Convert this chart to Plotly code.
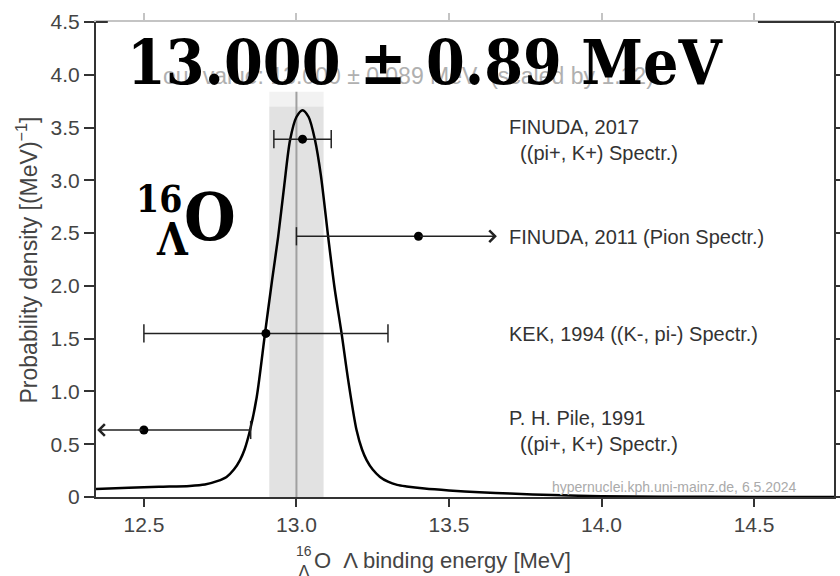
import plotly.graph_objects as go

# ---------------- data ----------------
curve_x = [12.343, 12.45, 12.55, 12.65, 12.70, 12.74, 12.771, 12.795, 12.815, 12.83,
           12.848, 12.87, 12.897, 12.92, 12.940, 12.96, 12.979, 13.00, 13.020, 13.04,
           13.061, 13.08, 13.104, 13.125, 13.148, 13.17, 13.197, 13.215, 13.230, 13.25,
           13.274, 13.30, 13.33, 13.361, 13.42, 13.5, 13.6, 13.7, 13.84, 14.0,
           14.2, 14.5, 14.762]
curve_y = [0.076, 0.088, 0.097, 0.105, 0.118, 0.150, 0.19, 0.26, 0.35, 0.45,
           0.634, 0.95, 1.55, 2.05, 2.465, 2.95, 3.38, 3.60, 3.665, 3.60,
           3.38, 3.05, 2.465, 1.98, 1.55, 1.10, 0.634, 0.45, 0.35, 0.26,
           0.19, 0.145, 0.115, 0.10, 0.08, 0.062, 0.045, 0.032, 0.018, 0.008,
           0.003, 0.001, 0.0]

our_value = 13.000
our_error = 0.089
band_top = 3.70
band_top_light = 3.84

exp_labels = ["FINUDA, 2017<br>\u00a0\u00a0((pi+, K+) Spectr.)",
              "FINUDA, 2011 (Pion Spectr.)",
              "KEK, 1994 ((K-, pi-) Spectr.)",
              "P. H. Pile, 1991<br>\u00a0\u00a0((pi+, K+) Spectr.)"]
exp_value = [13.02, 13.40, 12.90, 12.50]
exp_y = [3.39, 2.47, 1.55, 0.635]
exp_lo = [12.926, 13.00, 12.50, None]
exp_hi = [13.114, None, 13.30, 12.85]
exp_arrow_tip = [None, 13.657, None, 12.347]

x_range = [12.343, 14.762]
y_range = [0, 4.5]
x_ticks = [12.5, 13.0, 13.5, 14.0, 14.5]
x_ticktext = ["12.5", "13.0", "13.5", "14.0", "14.5"]
y_ticks = [0, 0.5, 1.0, 1.5, 2.0, 2.5, 3.0, 3.5, 4.0, 4.5]
y_ticktext = ["0", "0.5", "1.0", "1.5", "2.0", "2.5", "3.0", "3.5", "4.0", "4.5"]

# ---------------- figure ----------------
SANS = "Liberation Sans, Arial, sans-serif"
SERIF = "DejaVu Serif Condensed, DejaVu Serif, serif"
DARK = "#222222"

fig = go.Figure()

# uncertainty band and our value line
fig.add_shape(type="rect", xref="x", yref="y", x0=our_value - our_error, x1=our_value + our_error,
              y0=band_top, y1=band_top_light, fillcolor="#f2f2f2", line_width=0, layer="below")
fig.add_shape(type="rect", xref="x", yref="y", x0=our_value - our_error, x1=our_value + our_error,
              y0=0, y1=band_top, fillcolor="#e2e2e2", line_width=0, layer="below")
fig.add_shape(type="line", xref="x", yref="y", x0=our_value, x1=our_value, y0=0, y1=band_top_light,
              line=dict(color="#a0a0a0", width=2), layer="below")

# invisible trace so the mirrored top/right axes are drawn
fig.add_trace(go.Scatter(x=curve_x, y=curve_y, xaxis="x2", yaxis="y2", mode="lines",
                         line=dict(color="rgba(0,0,0,0)", width=0), hoverinfo="skip", showlegend=False))

# probability density curve
fig.add_trace(go.Scatter(x=curve_x, y=curve_y, mode="lines",
                         line=dict(color="black", width=2.5, shape="spline", smoothing=0.8),
                         hoverinfo="skip", showlegend=False))

# experiments
for lab, v, yy, lo, hi, tip in zip(exp_labels, exp_value, exp_y, exp_lo, exp_hi, exp_arrow_tip):
    seg_x = [lo if lo is not None else v, hi if hi is not None else v]
    fig.add_trace(go.Scatter(x=seg_x, y=[yy, yy], mode="lines",
                             line=dict(color=DARK, width=1.5), showlegend=False, hoverinfo="skip"))
    caps = [c for c in (lo, hi) if c is not None]
    fig.add_trace(go.Scatter(x=caps, y=[yy] * len(caps), mode="markers",
                             marker=dict(symbol="line-ns", size=13, line=dict(color=DARK, width=1.5)),
                             showlegend=False, hoverinfo="skip"))
    if tip is not None:
        fig.add_annotation(x=tip, y=yy, ax=v, ay=yy, xref="x", yref="y", axref="x", ayref="y",
                           text="", showarrow=True, arrowhead=4, arrowsize=1.5, arrowwidth=1.5,
                           arrowcolor=DARK, standoff=0, startstandoff=0)
    fig.add_trace(go.Scatter(x=[v], y=[yy], mode="markers",
                             marker=dict(color="black", size=9), showlegend=False, hoverinfo="skip"))
    fig.add_annotation(x=13.69, y=yy, xref="x", yref="y", text=lab, showarrow=False,
                       xanchor="left", yanchor="middle", align="left", yshift=-1,
                       font=dict(family=SANS, size=20, color="#333333"))

# dark pieces of the top border
fig.add_shape(type="line", xref="paper", yref="paper", x0=0.897, x1=1.0, y0=1, y1=1,
              line=dict(color="#333333", width=2))
fig.add_shape(type="line", xref="paper", yref="paper", x0=0.0, x1=0.016, y0=1, y1=1,
              line=dict(color="#333333", width=2))

# watermark
fig.add_annotation(x=0.9526, y=0.021, xref="paper", yref="paper", xanchor="right", yanchor="middle",
                   text="hypernuclei.kph.uni-mainz.de, 6.5.2024", showarrow=False,
                   font=dict(family=SANS, size=14, color="#aaaaaa"))

# faint original value text
fig.add_annotation(x=0.424, y=0.886, xref="paper", yref="paper", xanchor="center", yanchor="middle",
                   text="our value: 13.000 \u00b1 0.089 MeV  (scaled by 1.12)", showarrow=False,
                   font=dict(family=SANS, size=23, color="#b0b0b0"))

# big overlay value
fig.add_annotation(x=0.4458, y=0.915, xref="paper", yref="paper", xanchor="center", yanchor="middle",
                   text="13.000 \u00b1 0.89 MeV", showarrow=False,
                   font=dict(family=SERIF, size=62, color="black", weight="bold"))

# nucleus label
fig.add_annotation(x=0.0854, y=0.627, xref="paper", yref="paper", xanchor="center", yanchor="middle",
                   text="16", showarrow=False, font=dict(family=SERIF, size=37, color="black", weight="bold"))
fig.add_annotation(x=0.103, y=0.543, xref="paper", yref="paper", xanchor="center", yanchor="middle",
                   text="\u039b", showarrow=False, font=dict(family=SERIF, size=44, color="black", weight="bold"))
fig.add_annotation(x=0.1545, y=0.589, xref="paper", yref="paper", xanchor="center", yanchor="middle",
                   text="O", showarrow=False, font=dict(family=SERIF, size=66, color="black", weight="bold"))

# x-axis title pieces
fig.add_annotation(x=0.2818, y=-0.1137, xref="paper", yref="paper", xanchor="center", yanchor="middle",
                   text="16", showarrow=False, font=dict(family=SANS, size=14, color="#444444"))
fig.add_annotation(x=0.2818, y=-0.158, xref="paper", yref="paper", xanchor="center", yanchor="middle",
                   text="\u039b", showarrow=False, font=dict(family=SANS, size=18, color="#444444"))
fig.add_annotation(x=0.2927, y=-0.1347, xref="paper", yref="paper", xanchor="left", yanchor="middle",
                   text="O\u00a0\u00a0\u039b binding energy [MeV]", showarrow=False,
                   font=dict(family=SANS, size=22, color="#444444"))

# y-axis title
fig.add_annotation(x=-0.0935, y=0.5, xref="paper", yref="paper", xanchor="center", yanchor="middle",
                   text="Probability density [(MeV)<sup>\u22121</sup>]", textangle=-90, showarrow=False,
                   font=dict(family=SANS, size=23, color="#444444"))

axis_common = dict(showgrid=False, zeroline=False, showline=True, linecolor="#333333", linewidth=2,
                   ticks="outside", tickcolor="#333333", tickwidth=1.5, automargin=False,
                   tickfont=dict(family=SANS, size=21, color="#444444"))

fig.update_layout(
    width=840, height=576,
    margin=dict(l=96, r=6, t=22, b=79, autoexpand=False),
    paper_bgcolor="white", plot_bgcolor="white",
    showlegend=False,
    xaxis=dict(range=x_range, tickvals=x_ticks, ticktext=x_ticktext, ticklen=8, **axis_common),
    yaxis=dict(range=y_range, tickvals=y_ticks, ticktext=y_ticktext, ticklen=10, **axis_common),
    xaxis2=dict(range=x_range, overlaying="x", side="top", anchor="y2", tickvals=x_ticks,
                showticklabels=False, showgrid=False, zeroline=False, showline=True, automargin=False,
                linecolor="#c4c4c4", linewidth=2, ticks="outside", ticklen=7,
                tickcolor="#c4c4c4", tickwidth=1.5),
    yaxis2=dict(range=y_range, overlaying="y", side="right", anchor="x2", tickvals=y_ticks,
                showticklabels=False, showgrid=False, zeroline=False, showline=True, automargin=False,
                linecolor="#333333", linewidth=2, ticks="outside", ticklen=10,
                tickcolor="#333333", tickwidth=1.5),
)

fig.write_html("out.html")
